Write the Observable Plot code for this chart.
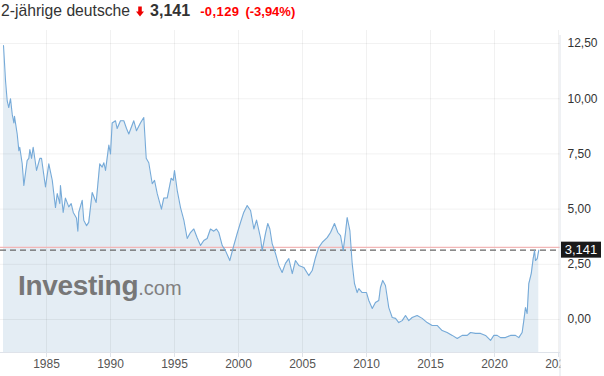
<!DOCTYPE html>
<html>
<head>
<meta charset="utf-8">
<script src="https://cdn.jsdelivr.net/npm/d3@7"></script>
<script src="https://cdn.jsdelivr.net/npm/@observablehq/plot@0.6"></script>
<style>
  html, body { margin: 0; padding: 0; background: #fff; }
  body { width: 604px; height: 376px; overflow: hidden; font-family: "Liberation Sans", Arial, sans-serif; }
  #title { height: 22px; display: flex; align-items: center; white-space: nowrap; padding-left: 1px; }
  #title .name { font-size: 15.7px; color: #333; }
  #title .arrow { margin: 0 6px 0 6px; display: inline-block; width: 8px; height: 11px; }
  #title .last { font-size: 16px; font-weight: bold; color: #333; }
  #title .chg { font-size: 13px; font-weight: bold; color: #f00; margin-left: 10px; letter-spacing: 0.4px; }
  #title .pct { font-size: 13px; font-weight: bold; color: #f00; margin-left: 6px; }
  #chart svg { display: block; }
</style>
</head>
<body>
<div id="title">
  <span class="name">2-jährige deutsche</span>
  <svg class="arrow" viewBox="0 0 9 11"><path d="M2.5 0 H6.5 V5.5 H9 L4.5 11 L0 5.5 H2.5 Z" fill="#e00"/></svg>
  <span class="last">3,141</span>
  <span class="chg">-0,129</span>
  <span class="pct">(-3,94%)</span>
</div>
<div id="chart"></div>
<script>
// Time (decimal year) and 2-year German yield values
const years = [
  1981.64, 1981.80, 1981.93, 1982.05, 1982.19, 1982.32, 1982.45, 1982.50, 1982.71, 1982.84,
  1982.91, 1983.10, 1983.23, 1983.49, 1983.62, 1983.70, 1983.83, 1983.96, 1984.22, 1984.48,
  1984.61, 1984.92, 1985.18, 1985.45, 1985.70, 1985.84, 1986.04, 1986.09, 1986.30, 1986.48,
  1986.74, 1986.93, 1987.09, 1987.34, 1987.45, 1987.52, 1987.79, 1987.91, 1988.13, 1988.30,
  1988.57, 1988.88, 1989.16, 1989.35, 1989.48, 1989.61, 1989.87, 1990.00, 1990.13, 1990.39,
  1990.52, 1990.78, 1991.04, 1991.25, 1991.43, 1991.82, 1992.03, 1992.34, 1992.60, 1992.79,
  1992.99, 1993.26, 1993.44, 1993.65, 1993.98, 1994.16, 1994.43, 1994.74, 1994.90, 1995.00,
  1995.21, 1995.47, 1995.73, 1995.99, 1996.25, 1996.51, 1996.77, 1997.03, 1997.29, 1997.55,
  1997.81, 1998.07, 1998.28, 1998.46, 1998.73, 1998.98, 1999.32, 1999.63, 1999.90, 2000.16,
  2000.41, 2000.68, 2000.94, 2001.20, 2001.41, 2001.72, 2001.85, 2002.11, 2002.29, 2002.45,
  2002.63, 2002.89, 2003.15, 2003.41, 2003.67, 2003.93, 2004.20, 2004.45, 2004.71, 2005.10,
  2005.49, 2005.76, 2006.02, 2006.27, 2006.54, 2006.93, 2007.19, 2007.50, 2007.76, 2007.97,
  2008.18, 2008.36, 2008.49, 2008.70, 2008.88, 2009.06, 2009.27, 2009.40, 2009.66, 2010.00,
  2010.18, 2010.45, 2010.70, 2010.96, 2011.09, 2011.27, 2011.48, 2011.74, 2012.01, 2012.27,
  2012.52, 2012.79, 2013.05, 2013.30, 2013.57, 2013.96, 2014.35, 2014.74, 2015.13, 2015.52,
  2015.91, 2016.30, 2016.70, 2017.09, 2017.48, 2017.87, 2018.13, 2018.52, 2018.91, 2019.30,
  2019.69, 2019.95, 2020.21, 2020.47, 2020.86, 2021.25, 2021.64, 2021.90, 2022.16, 2022.29,
  2022.42, 2022.55, 2022.68, 2022.87, 2023.02, 2023.13, 2023.20, 2023.34, 2023.46
];
const values = [
  12.41, 10.80, 9.90, 9.60, 10.00, 9.30, 8.90, 9.20, 8.40, 7.65,
  7.80, 7.06, 6.07, 7.20, 7.30, 7.70, 7.30, 7.80, 6.75, 7.30,
  7.30, 6.00, 7.05, 6.30, 5.07, 5.70, 5.25, 6.07, 4.85, 5.50,
  5.10, 5.25, 4.85, 4.60, 4.00, 4.85, 5.40, 4.50, 4.25, 4.40,
  5.75, 5.30, 7.05, 6.90, 7.10, 6.75, 7.90, 7.50, 8.90, 9.00,
  8.65, 9.00, 9.00, 8.65, 8.40, 9.00, 8.55, 8.90, 9.15, 7.30,
  7.10, 6.15, 6.30, 5.70, 5.00, 5.50, 5.50, 6.40, 6.30, 6.75,
  5.85, 5.07, 4.50, 3.67, 3.94, 4.10, 3.70, 3.35, 3.58, 3.67,
  4.10, 4.00, 4.10, 3.94, 3.35, 3.12, 2.67, 3.35, 3.90, 4.40,
  4.85, 5.16, 4.94, 4.10, 4.50, 3.70, 3.12, 3.90, 4.35, 4.10,
  3.44, 2.99, 2.45, 2.13, 2.54, 2.76, 2.08, 2.67, 2.45, 2.36,
  1.99, 2.22, 2.81, 3.26, 3.49, 3.71, 3.94, 4.35, 3.94, 3.80,
  3.12, 3.94, 4.62, 4.03, 2.54, 1.63, 1.22, 1.40, 1.22, 1.22,
  0.86, 0.50, 0.77, 0.86, 1.45, 1.77, 1.54, 0.54, 0.09, 0.05,
  -0.14, -0.05, 0.18, -0.05, 0.09, 0.18, 0.05, -0.14, -0.27, -0.27,
  -0.50, -0.59, -0.72, -0.86, -0.72, -0.72, -0.59, -0.63, -0.63, -0.72,
  -0.95, -0.72, -0.72, -0.82, -0.82, -0.72, -0.72, -0.82, -0.59, -0.05,
  0.54, 0.27, 1.63, 2.08, 2.76, 3.12, 2.67, 2.76, 3.141
];
const xTicks = [1985, 1990, 1995, 2000, 2005, 2010, 2015, 2020, 2025];
const yTicks = [0, 2.5, 5, 7.5, 10, 12.5];
const lastValue = 3.141;
const prevClose = 3.270;

const data = years.map((t, i) => ({t, v: values[i]}));
const xDomain = [1981.406, 2025.156];
const yDomain = [-1.4946, 13.09];
const fmtY = d => d.toFixed(2).replace(".", ",");

const plot = Plot.plot({
  width: 604,
  height: 354,
  marginLeft: 0,
  marginRight: 44,
  marginTop: 8,
  marginBottom: 24,
  style: {fontFamily: '"Liberation Sans", Arial, sans-serif', background: "#fff", overflow: "visible"},
  x: {domain: xDomain, label: null},
  y: {domain: yDomain, label: null},
  marks: [
    Plot.areaY(data, {x: "t", y1: yDomain[0], y2: "v", fill: "#e4edf4"}),
    Plot.gridX(xTicks, {stroke: "#000", strokeOpacity: 0.055}),
    Plot.gridY(yTicks, {stroke: "#000", strokeOpacity: 0.055}),
    Plot.ruleY([prevClose], {stroke: "#f2b6b6", strokeWidth: 1.2}),
    Plot.ruleY([lastValue], {stroke: "#666", strokeWidth: 1.2, strokeDasharray: "6,4"}),
    Plot.lineY(data, {x: "t", y: "v", stroke: "#76aad8", strokeWidth: 1.1}),
    Plot.ruleY([yDomain[0]], {stroke: "#dfe3ea"}),
    Plot.axisX(xTicks, {tickSize: 5, tickPadding: 2, stroke: "#dfe3ea", fill: "#555", fontSize: 12, label: null, tickFormat: d => String(d)}),
    Plot.axisY(yTicks, {anchor: "right", tickSize: 0, tickPadding: 7, fill: "#333", fontSize: 12, label: null, tickFormat: fmtY})
  ]
});

document.getElementById("chart").appendChild(plot);

// Post-render decorations positioned from the chart's own scales
const svg = d3.select(plot);
const xs = plot.scale("x"), ys = plot.scale("y");
const xRight = xs.apply(xDomain[1]);

// clip the x tick labels at the right edge of the plotting area
const defs = svg.insert("defs", ":first-child");
defs.append("clipPath").attr("id", "xclip").append("rect")
  .attr("x", 0).attr("y", 0).attr("width", xRight).attr("height", 354);
svg.selectAll('g[aria-label="x-axis tick label"]').attr("clip-path", "url(#xclip)");

// right axis line
svg.append("line").attr("x1", xRight).attr("x2", xRight).attr("y1", 13).attr("y2", 354)
  .attr("stroke", "#dfe3ea");

// watermark (drawn above the area fill, below grid and line)
const wm = svg.insert("text", 'g[aria-label="grid"]').attr("x", 18).attr("y", 273)
  .attr("text-anchor", "start")
  .attr("fill", "#777").style("font-family", '"Liberation Sans", Arial, sans-serif');
wm.append("tspan").text("Investing").attr("font-size", 28).attr("font-weight", "bold").attr("letter-spacing", -0.3);
wm.append("tspan").text(".com").attr("font-size", 20).attr("fill", "#808080");

// last-value label box
const yl = ys.apply(lastValue);
svg.append("rect").attr("x", xRight + 1).attr("y", yl - 8).attr("width", 40).attr("height", 16).attr("fill", "#1a1a1a");
svg.append("text").attr("x", xRight + 21).attr("y", yl + 4.5).attr("text-anchor", "middle")
  .attr("fill", "#fff").attr("font-size", 13).text(lastValue.toString().replace(".", ","));
</script>
</body>
</html>
